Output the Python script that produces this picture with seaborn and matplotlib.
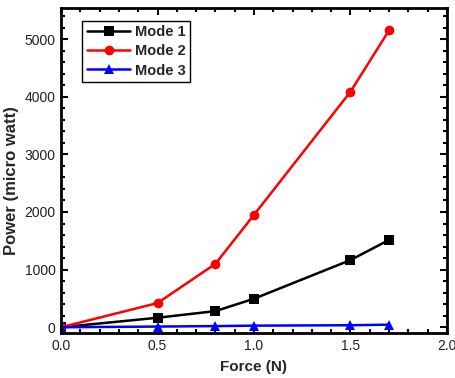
import matplotlib
matplotlib.use("Agg")
import matplotlib.pyplot as plt
import seaborn as sns
import pandas as pd
from matplotlib.ticker import MultipleLocator

sns.set_style("ticks")
plt.rcParams["font.family"] = ["Liberation Sans", "DejaVu Sans"]

# Data
force = [0.0, 0.5, 0.8, 1.0, 1.5, 1.7]
mode1 = [0, 165, 280, 495, 1165, 1515]
mode2 = [0, 420, 1100, 1950, 4085, 5150]
mode3 = [0, 12, 20, 28, 35, 45]

modes = ["Mode 1", "Mode 2", "Mode 3"]
colors = ["black", "red", "blue"]
markers = ["s", "o", "^"]

df = pd.DataFrame({"force": force * 3,
                   "power": mode1 + mode2 + mode3,
                   "mode": [m for m in modes for _ in force]})

fig = plt.figure(figsize=(4.56, 3.78), dpi=100)
ax = fig.add_axes([0.134, 0.119, 0.846, 0.860])

sns.lineplot(data=df, x="force", y="power", hue="mode", style="mode",
             palette=colors, markers=markers, dashes=False,
             markersize=7, linewidth=1.8, markeredgewidth=0, ax=ax)

ax.set_xlim(0, 2.0)
ax.set_ylim(-100, 5540)
ax.xaxis.set_major_locator(MultipleLocator(0.5))
ax.xaxis.set_minor_locator(MultipleLocator(0.1))
ax.yaxis.set_major_locator(MultipleLocator(1000))
ax.yaxis.set_minor_locator(MultipleLocator(200))
ax.xaxis.set_major_formatter(matplotlib.ticker.FormatStrFormatter("%.1f"))
ax.tick_params(which="both", direction="in", top=True, right=True,
               width=1.5, labelsize=10, colors="black", labelcolor="#222222")
ax.tick_params(which="major", length=5)
ax.tick_params(axis="x", which="major", pad=4)
ax.tick_params(axis="y", which="major", pad=4)
ax.tick_params(which="minor", length=3)
for s in ax.spines.values():
    s.set_linewidth(2)
    s.set_color("black")

ax.set_xlabel("Force (N)", fontsize=11, fontweight="bold", labelpad=5)
ax.set_ylabel("Power (micro watt)", fontsize=12, fontweight="bold")
ax.yaxis.set_label_coords(-0.108, 0.47)

leg = ax.legend(loc="upper left", bbox_to_anchor=(0.055, 0.96), fancybox=False,
                edgecolor="black", framealpha=1, handlelength=3.0,
                borderpad=0.3, labelspacing=0.35, handletextpad=0.3,
                borderaxespad=0, prop={"weight": "bold", "size": 10.5})
leg.get_frame().set_linewidth(1)

fig.savefig("out.png", dpi=100)
